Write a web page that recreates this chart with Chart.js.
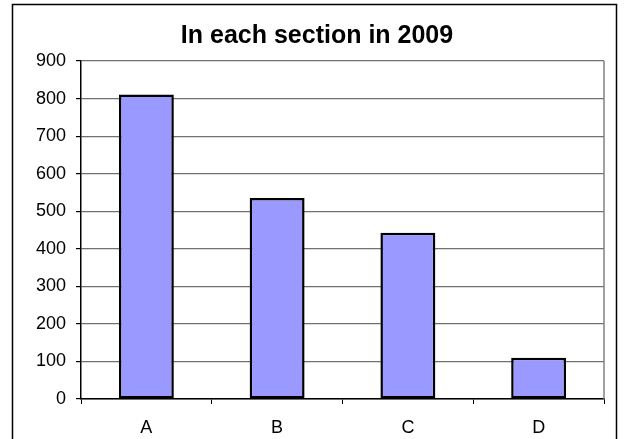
<!DOCTYPE html>
<html>
<head>
<meta charset="utf-8">
<script src="https://cdn.jsdelivr.net/npm/chart.js@4/dist/chart.umd.min.js"></script>
<style>
  html, body { margin: 0; padding: 0; background: #fff; }
  #wrap { width: 628px; height: 439px; position: relative; }
</style>
</head>
<body>
<div id="wrap"><canvas id="c" width="628" height="439"></canvas></div>
<script>
const titleText = "In each section in 2009";
const categories = ["A", "B", "C", "D"];
const values = [811, 535, 443, 110];
const yTicks = [0, 100, 200, 300, 400, 500, 600, 700, 800, 900];

const frame = {
  id: 'frame',
  beforeDraw(chart) {
    const ctx = chart.ctx;
    ctx.save();
    ctx.fillStyle = '#fff';
    ctx.fillRect(0, 0, chart.width, chart.height);
    ctx.strokeStyle = '#000';
    ctx.lineWidth = 1.5;
    ctx.strokeRect(12.5, 4.5, 604, 440);
    ctx.restore();
  },
  beforeDatasetsDraw(chart) {
    const a = chart.chartArea, ctx = chart.ctx;
    ctx.save();
    ctx.strokeStyle = '#808080';
    ctx.lineWidth = 1.5;
    ctx.beginPath();
    ctx.moveTo(a.right, a.top);
    ctx.lineTo(a.right, a.bottom);
    ctx.stroke();
    ctx.restore();
  }
};

new Chart(document.getElementById('c'), {
  type: 'bar',
  data: {
    labels: categories,
    datasets: [{
      data: values,
      backgroundColor: '#9999ff',
      borderColor: '#000',
      borderWidth: 2.5,
      borderSkipped: false,
      barPercentage: 0.42,
      categoryPercentage: 1
    }]
  },
  options: {
    responsive: false,
    animation: false,
    devicePixelRatio: 1,
    layout: { padding: { left: 30, right: 24, top: 0, bottom: 0 } },
    plugins: {
      legend: { display: false },
      tooltip: { enabled: false },
      title: {
        display: true,
        text: titleText,
        color: '#000',
        font: { family: 'Liberation Sans, Arial, sans-serif', size: 25, weight: 'bold', lineHeight: 1.2 },
        padding: { top: 21, bottom: 10 }
      }
    },
    scales: {
      x: {
        grid: { offset: true, drawOnChartArea: false, tickLength: 5, tickColor: '#000', tickWidth: 1 },
        border: { color: '#000', width: 1.5 },
        ticks: { color: '#000', padding: 13, font: { family: 'Liberation Sans, Arial, sans-serif', size: 18 } },
        afterFit(s) { s.height = 40; }
      },
      y: {
        min: 0, max: 900,
        afterBuildTicks(s) { s.ticks = yTicks.map(v => ({ value: v })); },
        grid: { color: '#707070', lineWidth: 1.2, tickLength: 5, tickColor: '#000' },
        border: { color: '#000', width: 1.5 },
        ticks: { color: '#000', padding: 10, font: { family: 'Liberation Sans, Arial, sans-serif', size: 18 } },
        afterFit(s) { s.width = 51; }
      }
    }
  },
  plugins: [frame]
});
</script>
</body>
</html>
